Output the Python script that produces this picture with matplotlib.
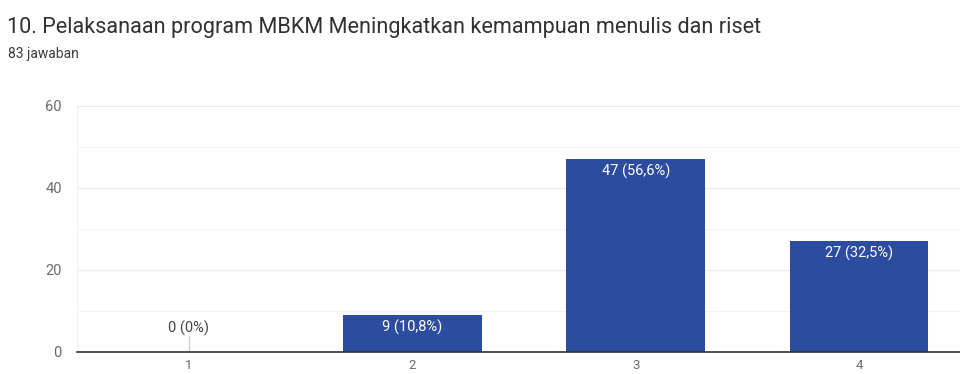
import matplotlib
matplotlib.use("Agg")
import matplotlib.pyplot as plt

# Survey answers for question 10, scale columns 1-4 (the fifth column sits past the right edge)
categories = ["1", "2", "3", "4"]
counts = [0, 9, 47, 27]
labels = ["0 (0%)", "9 (10,8%)", "47 (56,6%)", "27 (32,5%)"]

TITLE = "10. Pelaksanaan program MBKM Meningkatkan kemampuan menulis dan riset"
SUBTITLE = "83 jawaban"

BAR = "#2c4c9f"
INK = "#303134"
MUTED = "#6b6b6b"
GRID = "#ececec"

plt.rcParams["font.family"] = ["Roboto", "DejaVu Sans"]

fig = plt.figure(figsize=(9.6, 3.74), dpi=100)
fig.patch.set_facecolor("white")

fig.text(0.007, 0.912, TITLE, fontsize=15.6, color=INK, va="baseline", ha="left")
fig.text(0.008, 0.845, SUBTITLE, fontsize=10, color="#3c3c3c", va="baseline", ha="left")

# plot area runs past the right edge, leaving room for a fifth column off-canvas
ax = fig.add_axes([0.0802, 0.059, 1.164, 0.658])
x = list(range(len(categories)))
ax.bar(x, counts, width=0.62, color=BAR, zorder=3)

ax.set_xlim(-0.5, 4.5)
ax.set_ylim(0, 60)
ax.set_yticks([0, 20, 40, 60])
ax.set_yticks([10, 30, 50], minor=True)
ax.set_xticks(x)
ax.set_xticklabels(categories)

for side in ("top", "right", "left"):
    ax.spines[side].set_visible(False)
ax.spines["bottom"].set_color("#333333")
ax.spines["bottom"].set_linewidth(1.2)
ax.spines["bottom"].set_zorder(4)

ax.grid(axis="y", which="major", color=GRID, linewidth=0.9, zorder=0)
ax.grid(axis="y", which="minor", color="#f4f4f4", linewidth=0.8, zorder=0)
ax.axvline(-0.5, color="#f2f2f2", linewidth=0.9, zorder=0)

ax.tick_params(axis="both", which="both", length=0, colors=MUTED, labelsize=10.5)
ax.tick_params(axis="y", pad=11)
ax.tick_params(axis="x", pad=5, labelsize=9.5)

# value labels: inside the bar top, or above the baseline for empty bars
for xi, v, lab in zip(x, counts, labels):
    if v > 0:
        ax.annotate(lab, (xi, v), xytext=(0, -9), textcoords="offset points",
                    ha="center", va="center", fontsize=10.5, color="white", zorder=5)
    else:
        ax.annotate(lab, (xi, v), xytext=(0, 17), textcoords="offset points",
                    ha="center", va="center", fontsize=10.5, color="#444444", zorder=5)
        ax.plot([xi, xi], [0, 3.8], color="#d0d0d0", linewidth=1, zorder=2)

fig.savefig("out.png", dpi=100, facecolor="white")
